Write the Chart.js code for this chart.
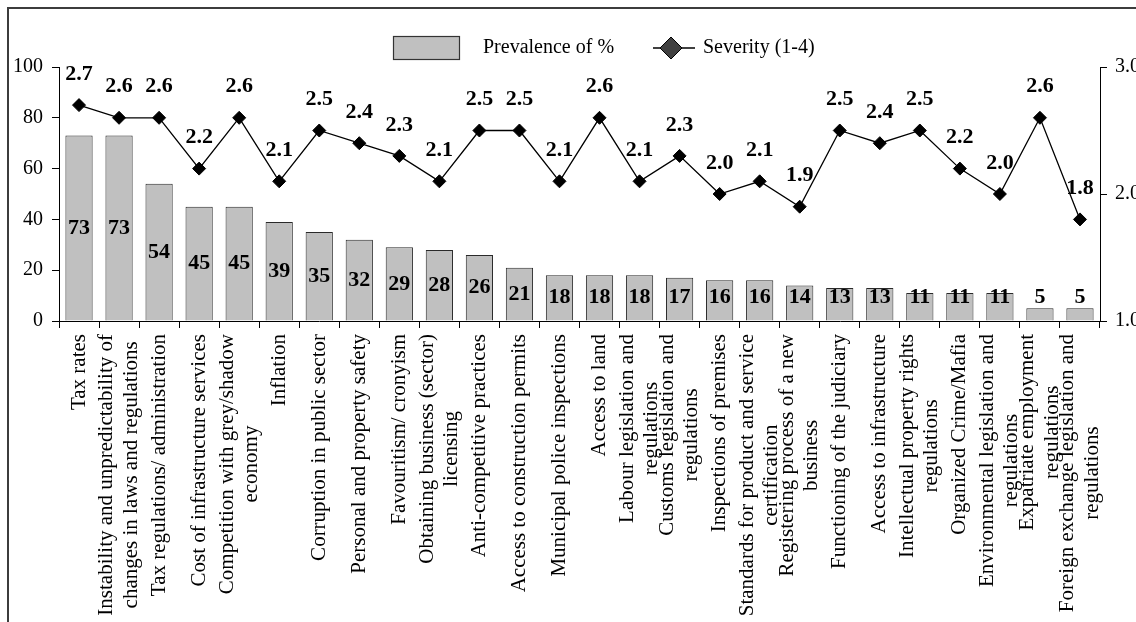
<!DOCTYPE html>
<html>
<head>
<meta charset="utf-8">
<script src="https://cdn.jsdelivr.net/npm/chart.js@4/dist/chart.umd.min.js"></script>
<style>
  html, body { margin: 0; padding: 0; background: #ffffff; }
  canvas { display: block; }
</style>
</head>
<body>
<canvas id="chart" width="1136" height="622"></canvas>
<script>
// Business constraints: how many firms name each one (%) and how severe it is (1-4)
const categories = [
  'Tax rates',
  ['Instability and unpredictability of', 'changes in laws and regulations'],
  'Tax regulations/ administration',
  'Cost of infrastructure services',
  ['Competition with grey/shadow', 'economy'],
  'Inflation',
  'Corruption in public sector',
  'Personal and property safety',
  'Favouritism/ cronyism',
  ['Obtaining business (sector)', 'licensing'],
  'Anti-competitive practices',
  'Access to construction permits',
  'Municipal police inspections',
  'Access to land',
  ['Labour legislation and', 'regulations'],
  ['Customs legislation and', 'regulations'],
  'Inspections of premises',
  ['Standards for product and service', 'certification'],
  ['Registering process of a new', 'business'],
  'Functioning of the judiciary',
  'Access to infrastructure',
  ['Intellectual property rights', 'regulations'],
  'Organized Crime/Mafia',
  ['Environmental legislation and', 'regulations'],
  ['Expatriate employment', 'regulations'],
  ['Foreign exchange legislation and', 'regulations']
];

const prevalence = [73, 73, 54, 45, 45, 39, 35, 32, 29, 28, 26, 21, 18, 18, 18, 17, 16, 16, 14, 13, 13, 11, 11, 11, 5, 5];

const severity = [2.7, 2.6, 2.6, 2.2, 2.6, 2.1, 2.5, 2.4, 2.3, 2.1, 2.5, 2.5, 2.1, 2.6, 2.1, 2.3, 2.0, 2.1, 1.9, 2.5, 2.4, 2.5, 2.2, 2.0, 2.6, 1.8];

const prevalenceTicks = [0, 20, 40, 60, 80, 100];
const severityTicks = [1.0, 2.0, 3.0];

const seriesNames = ['Prevalence of %', 'Severity (1-4)'];

const FONT = "'Liberation Serif', 'Times New Roman', serif";
Chart.defaults.font.family = FONT;
Chart.defaults.font.size = 20;
Chart.defaults.color = '#000000';

// Rotated category labels: keep the block centred on its category and
// centre shorter lines against the longest one.
const centreRotatedLabels = {
  id: 'centreRotatedLabels',
  beforeDraw(chart) {
    const scale = chart.scales.x;
    const items = scale.getLabelItems(chart.chartArea);
    const ctx = chart.ctx;
    items.forEach(item => {
      if (item._centred) return;
      const lines = Array.isArray(item.label) ? item.label : [item.label];
      ctx.save();
      ctx.font = item.font.string;
      const maxW = Math.max(...lines.map(l => ctx.measureText(l).width));
      ctx.restore();
      item.options.textAlign = 'center';
      item.options.translation = [item.options.translation[0], item.options.translation[1] + maxW / 2];
      item.textOffset -= (lines.length - 1) * item.font.lineHeight / 2;
      item._centred = true;
    });
  }
};

// Value labels on bars and markers
const valueLabels = {
  id: 'valueLabels',
  afterDatasetsDraw(chart) {
    const ctx = chart.ctx;
    ctx.save();
    ctx.font = "bold 22px " + FONT;
    ctx.fillStyle = '#000000';
    ctx.textAlign = 'center';
    ctx.textBaseline = 'middle';
    const barMeta = chart.getDatasetMeta(0);
    barMeta.data.forEach((el, i) => {
      const mid = (el.y + el.base) / 2;
      const y = Math.min(mid, el.base - 23);
      ctx.fillText(String(prevalence[i]), el.x, y);
    });
    const lineMeta = chart.getDatasetMeta(1);
    lineMeta.data.forEach((el, i) => {
      ctx.fillText(severity[i].toFixed(1), el.x, el.y - 31);
    });
    ctx.restore();
  }
};

// Legend row and the frame around the figure
const frameAndLegend = {
  id: 'frameAndLegend',
  afterDraw(chart) {
    const ctx = chart.ctx;
    const ds = chart.data.datasets;
    ctx.save();
    ctx.strokeStyle = '#3c3c3c';
    ctx.lineWidth = 2;
    ctx.strokeRect(8, 8, 1300, 800);

    ctx.font = "20px " + FONT;
    ctx.textBaseline = 'middle';
    ctx.textAlign = 'left';
    const ly = 48;
    // bar swatch
    ctx.fillStyle = ds[0].backgroundColor;
    ctx.fillRect(393, 36, 66, 23);
    ctx.strokeStyle = '#333333';
    ctx.lineWidth = 1.2;
    ctx.strokeRect(393.5, 36.5, 66, 23);
    ctx.fillStyle = '#000000';
    ctx.fillText(ds[0].label, 483, ly);
    // line swatch
    ctx.strokeStyle = ds[1].borderColor;
    ctx.lineWidth = 1.3;
    ctx.beginPath();
    ctx.moveTo(653, ly);
    ctx.lineTo(695, ly);
    ctx.stroke();
    ctx.beginPath();
    ctx.moveTo(671, ly - 11);
    ctx.lineTo(682, ly);
    ctx.lineTo(671, ly + 11);
    ctx.lineTo(660, ly);
    ctx.closePath();
    ctx.fillStyle = '#404040';
    ctx.fill();
    ctx.strokeStyle = '#000000';
    ctx.lineWidth = 1;
    ctx.stroke();
    ctx.fillStyle = '#000000';
    ctx.fillText(ds[1].label, 703, ly);
    ctx.restore();
  }
};

new Chart(document.getElementById('chart'), {
  data: {
    labels: categories,
    datasets: [
      {
        type: 'bar',
        label: seriesNames[0],
        data: prevalence,
        yAxisID: 'y',
        backgroundColor: '#c0c0c0',
        borderColor: '#2a2a2a',
        borderWidth: 1,
        categoryPercentage: 1,
        barPercentage: 0.68,
        order: 2
      },
      {
        type: 'line',
        label: seriesNames[1],
        data: severity,
        yAxisID: 'y1',
        borderColor: '#000000',
        borderWidth: 1.3,
        tension: 0,
        pointStyle: 'rectRot',
        pointRadius: 6.5,
        pointBackgroundColor: '#000000',
        pointBorderColor: '#000000',
        pointBorderWidth: 1,
        order: 1
      }
    ]
  },
  options: {
    responsive: false,
    devicePixelRatio: 1,
    animation: false,
    layout: { padding: { top: 67, left: 0, right: 0, bottom: 0 } },
    plugins: {
      legend: { display: false },
      tooltip: { enabled: false }
    },
    scales: {
      x: {
        type: 'category',
        position: 'bottom',
        offset: true,
        grid: { offset: true, drawOnChartArea: false, drawTicks: true, tickLength: 7, color: '#000000', lineWidth: 1 },
        border: { display: true, color: '#000000', width: 1 },
        ticks: { autoSkip: false, minRotation: 90, maxRotation: 90, padding: 6, font: { size: 21, lineHeight: 1.15 }, color: '#000000' },
        afterFit(scale) { scale.height = 301; }
      },
      y: {
        position: 'left',
        min: prevalenceTicks[0],
        max: prevalenceTicks[prevalenceTicks.length - 1],
        afterBuildTicks(scale) { scale.ticks = prevalenceTicks.map(v => ({ value: v })); },
        grid: { drawOnChartArea: false, drawTicks: true, tickLength: 7, color: '#000000' },
        border: { display: true, color: '#000000', width: 1 },
        ticks: { padding: 9, font: { size: 20 }, color: '#000000' },
        afterFit(scale) { scale.width = 59; }
      },
      y1: {
        position: 'right',
        min: severityTicks[0],
        max: severityTicks[severityTicks.length - 1],
        afterBuildTicks(scale) { scale.ticks = severityTicks.map(v => ({ value: v })); },
        grid: { drawOnChartArea: false, drawTicks: true, tickLength: 7, color: '#000000' },
        border: { display: true, color: '#000000', width: 1 },
        ticks: { padding: 8, font: { size: 20 }, color: '#000000', callback: v => Number(v).toFixed(1) },
        afterFit(scale) { scale.width = 36; }
      }
    }
  },
  plugins: [centreRotatedLabels, valueLabels, frameAndLegend]
});
</script>
</body>
</html>
